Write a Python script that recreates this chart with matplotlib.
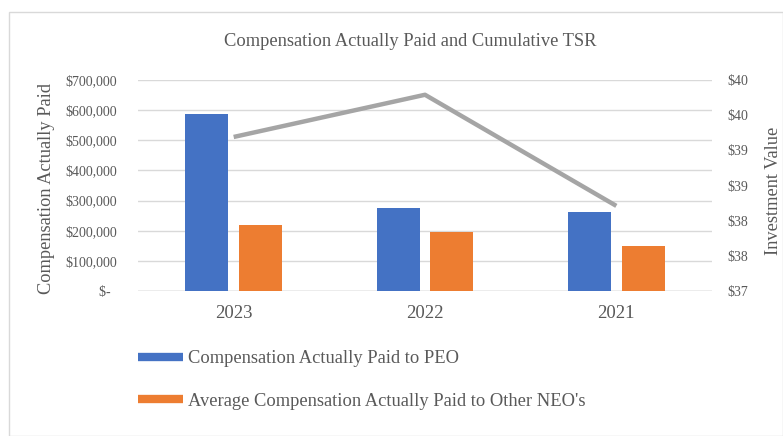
import matplotlib
matplotlib.use('Agg')

import matplotlib.pyplot as plt
from matplotlib.lines import Line2D
from matplotlib.patches import Rectangle
from matplotlib.ticker import FuncFormatter, MultipleLocator
import numpy as np

# data
years = ['2023', '2022', '2021']
cap_peo = [588000, 276000, 262000]
cap_neo = [219000, 196000, 150000]
tsr_value = [39.19, 39.79, 38.21]

series_labels = ['Compensation Actually Paid to PEO',
                 "Average Compensation Actually Paid to Other NEO's"]

blue = '#4472C4'
orange = '#ED7D31'
grey_line = '#A5A5A5'
text_col = '#595959'
grid_col = '#D9D9D9'

plt.rcParams['font.family'] = ['Liberation Serif', 'DejaVu Serif']

W, H = 783, 436
fig = plt.figure(figsize=(W / 100, H / 100), dpi=100)

# outer chart frame
fig.add_artist(Rectangle((9 / W, 0), (W - 9) / W, (H - 12) / H - 0.001,
                         transform=fig.transFigure, fill=False,
                         edgecolor=grid_col, linewidth=1))

ax = fig.add_axes([138 / W, 1 - 291 / H, 574 / W, 211 / H])
x = np.arange(len(years))
width = 0.225
ax.bar(x - 0.14, cap_peo, width, color=blue, zorder=3)
ax.bar(x + 0.14, cap_neo, width, color=orange, zorder=3)

ax.set_xlim(-0.5, len(years) - 0.5)
ax.set_ylim(0, 700000)
ax.yaxis.set_major_locator(MultipleLocator(100000))
ax.yaxis.set_major_formatter(FuncFormatter(
    lambda v, p: '$-  ' if v == 0 else '${:,.0f}'.format(v)))
ax.set_xticks(x)
ax.set_xticklabels(years)
ax.grid(axis='y', color=grid_col, linewidth=1, zorder=0)
for s in ax.spines.values():
    s.set_visible(False)
ax.axhline(0, color='#BFBFBF', linewidth=1, zorder=2)
ax.tick_params(axis='y', length=0, pad=15, labelsize=10, labelcolor=text_col)
ax.tick_params(axis='x', length=0, pad=10, labelsize=13.5, labelcolor=text_col)

ax2 = ax.twinx()
ax2.plot(x, tsr_value, color=grey_line, linewidth=3.2, zorder=4,
         solid_capstyle='butt')
ax2.set_ylim(37, 40)
ax2.yaxis.set_major_locator(MultipleLocator(0.5))
ax2.yaxis.set_major_formatter(FuncFormatter(lambda v, p: '$%d' % int(v + 0.5)))
for s in ax2.spines.values():
    s.set_visible(False)
ax2.tick_params(axis='y', length=0, pad=11, labelsize=10, labelcolor=text_col)

# axis titles
fig.text(47 / W, 1 - 188 / H, 'Compensation Actually Paid', rotation=90,
         ha='center', va='center', fontsize=13.2, color=text_col)
fig.text(774 / W, 1 - 191 / H, 'Investment Value', rotation=90,
         ha='center', va='center', fontsize=13.2, color=text_col)

fig.text(410 / W, 1 - 42 / H, 'Compensation Actually Paid and Cumulative TSR',
         ha='center', va='center', fontsize=13.3, color=text_col)

handles = [Line2D([0], [0], color=blue, linewidth=6, solid_capstyle='butt'),
           Line2D([0], [0], color=orange, linewidth=6, solid_capstyle='butt')]
leg = fig.legend(handles, series_labels, loc='upper left',
                 bbox_to_anchor=(131 / W, 1 - 343 / H), frameon=False,
                 fontsize=13.3, handlelength=2.4, handletextpad=0.27,
                 labelspacing=1.38, borderaxespad=0)
for t in leg.get_texts():
    t.set_color(text_col)

plt.savefig('out.png', dpi=100)
